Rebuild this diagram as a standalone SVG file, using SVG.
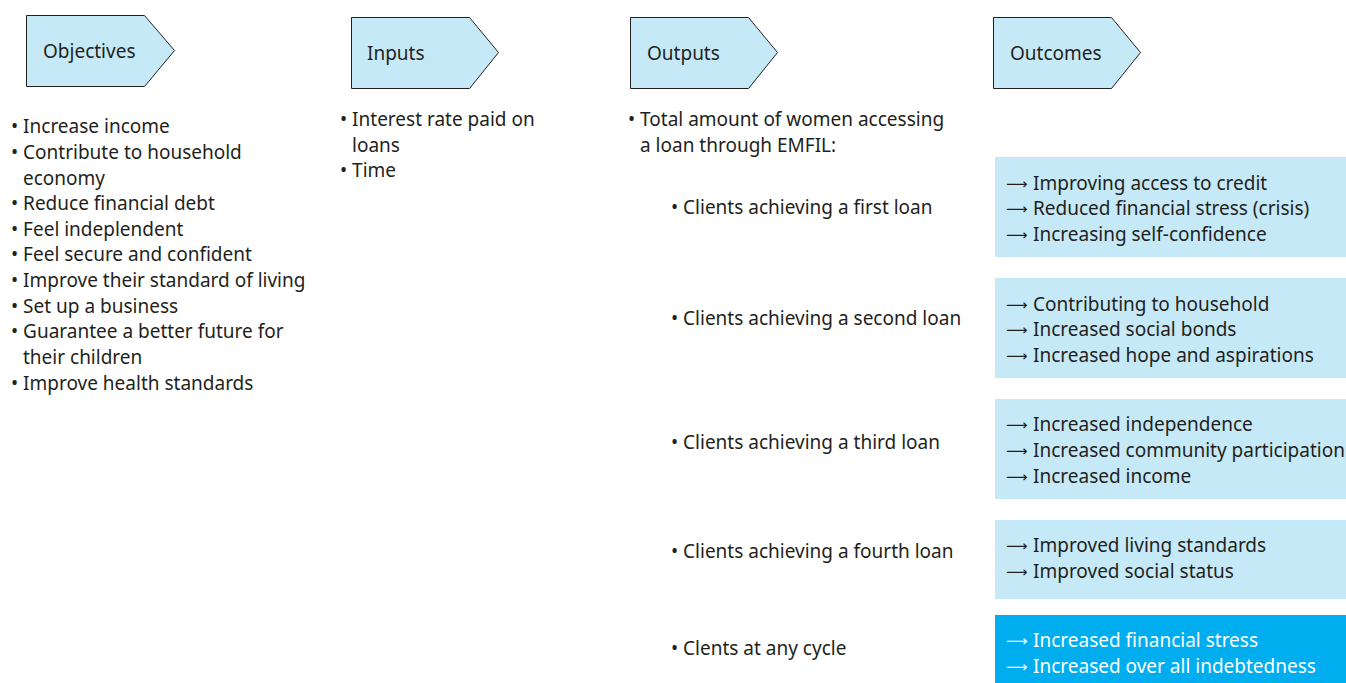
<svg xmlns="http://www.w3.org/2000/svg" width="1346" height="683" viewBox="0 0 1346 683">
  <style>
    text { font-family: "Noto Sans", "Liberation Sans", sans-serif; font-size: 19px; fill: #231f20; }
    text.arr { font-family: "DejaVu Sans", sans-serif; font-size: 15px; }
    .head { fill: #c6e9f8; stroke: #231f20; stroke-width: 1; }
    .box { fill: #c6e9f8; }
    .box-dark { fill: #00aeef; }
    .light text { fill: #ffffff; }
  </style>
  <rect width="1346" height="683" fill="#ffffff"/>

  <!-- Column headers -->
  <g id="objectives">
    <path class="head" d="M26.5,15.5 H144.5 L174.5,50.5 L144.5,86.5 H26.5 Z"/>
    <text x="43" y="58">Objectives</text>
  </g>
  <g id="inputs">
    <path class="head" d="M351.5,17.5 H469.5 L498.5,52.5 L469.5,88.5 H351.5 Z"/>
    <text x="367" y="60">Inputs</text>
  </g>
  <g id="outputs">
    <path class="head" d="M630.5,17.5 H748.5 L777.5,52.5 L748.5,88.5 H630.5 Z"/>
    <text x="647" y="60">Outputs</text>
  </g>
  <g id="outcomes">
    <path class="head" d="M993.5,17.5 H1111.5 L1140.5,52.5 L1111.5,88.5 H993.5 Z"/>
    <text x="1010" y="60">Outcomes</text>
  </g>

  <!-- Objectives list -->
  <g id="objectives-list">
    <text x="11" y="133">• Increase income</text>
    <text x="11" y="159">• Contribute to household</text>
    <text x="23" y="185">economy</text>
    <text x="11" y="210">• Reduce financial debt</text>
    <text x="11" y="236">• Feel indeplendent</text>
    <text x="11" y="261">• Feel secure and confident</text>
    <text x="11" y="287">• Improve their standard of living</text>
    <text x="11" y="313">• Set up a business</text>
    <text x="11" y="338">• Guarantee a better future for</text>
    <text x="23" y="364">their children</text>
    <text x="11" y="390">• Improve health standards</text>
  </g>

  <!-- Inputs list -->
  <g id="inputs-list">
    <text x="340" y="126">• Interest rate paid on</text>
    <text x="352" y="152">loans</text>
    <text x="340" y="177">• Time</text>
  </g>

  <!-- Outputs list -->
  <g id="outputs-list">
    <text x="628" y="126">• Total amount of women accessing</text>
    <text x="640" y="152">a loan through EMFIL:</text>
    <text x="671" y="214">• Clients achieving a first loan</text>
    <text x="671" y="325">• Clients achieving a second loan</text>
    <text x="671" y="449">• Clients achieving a third loan</text>
    <text x="671" y="558">• Clients achieving a fourth loan</text>
    <text x="671" y="655">• Clents at any cycle</text>
  </g>

  <!-- Outcome boxes -->
  <g id="outcome-first">
    <rect class="box" x="995" y="157" width="351" height="100"/>
    <text class="arr" x="1006" y="189">⟶</text><text x="1033" y="190">Improving access to credit</text>
    <text class="arr" x="1006" y="214">⟶</text><text x="1033" y="215">Reduced financial stress (crisis)</text>
    <text class="arr" x="1006" y="240">⟶</text><text x="1033" y="241">Increasing self-confidence</text>
  </g>
  <g id="outcome-second">
    <rect class="box" x="995" y="278" width="351" height="100"/>
    <text class="arr" x="1006" y="310">⟶</text><text x="1033" y="311">Contributing to household</text>
    <text class="arr" x="1006" y="335">⟶</text><text x="1033" y="336">Increased social bonds</text>
    <text class="arr" x="1006" y="361">⟶</text><text x="1033" y="362">Increased hope and aspirations</text>
  </g>
  <g id="outcome-third">
    <rect class="box" x="995" y="399" width="351" height="100"/>
    <text class="arr" x="1006" y="430">⟶</text><text x="1033" y="431">Increased independence</text>
    <text class="arr" x="1006" y="456">⟶</text><text x="1033" y="457">Increased community participation</text>
    <text class="arr" x="1006" y="482">⟶</text><text x="1033" y="483">Increased income</text>
  </g>
  <g id="outcome-fourth">
    <rect class="box" x="995" y="520" width="351" height="79"/>
    <text class="arr" x="1006" y="551">⟶</text><text x="1033" y="552">Improved living standards</text>
    <text class="arr" x="1006" y="577">⟶</text><text x="1033" y="578">Improved social status</text>
  </g>
  <g id="outcome-any" class="light">
    <rect class="box-dark" x="995" y="615" width="351" height="68"/>
    <text class="arr" x="1006" y="646">⟶</text><text x="1033" y="647">Increased financial stress</text>
    <text class="arr" x="1006" y="672">⟶</text><text x="1033" y="673">Increased over all indebtedness</text>
  </g>

  <!-- No connectors are drawn between the columns -->
  <g id="connectors"/>
</svg>
